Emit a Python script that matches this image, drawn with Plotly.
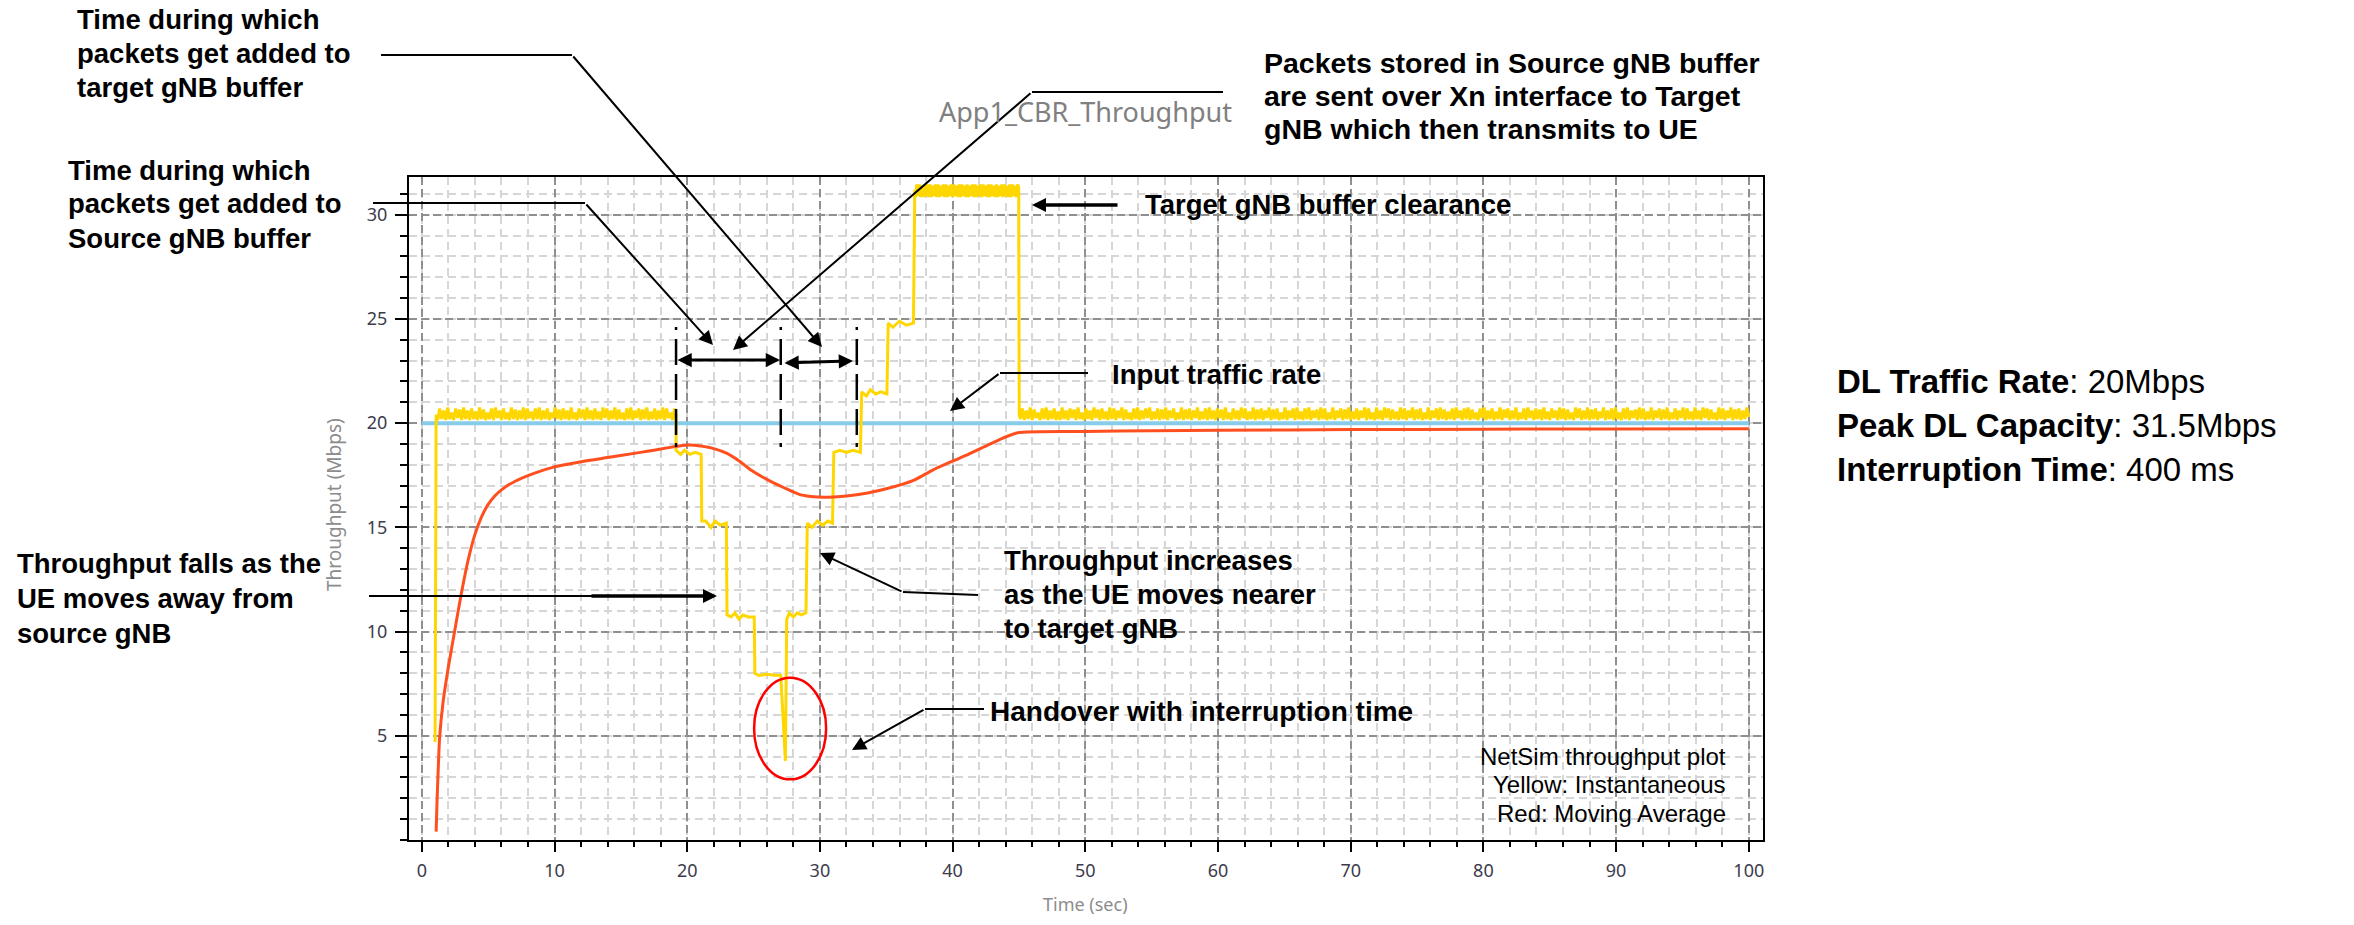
import plotly.graph_objects as go

# ---------------------------------------------------------------- data ----
# Instantaneous throughput (Mbps) – start of flow
start_t = [1.0, 1.08]
start_v = [4.7, 20.4]

# steady phase before the handover, one sample every 0.15 s from t = 1.2 s
pre_t0, pre_dt = 1.2, 0.15
pre_v = [
    20.15, 20.7, 20.2, 20.6, 20.15, 20.75, 20.2, 20.5, 20.15, 20.7, 20.25, 20.65, 20.15, 20.75, 20.2, 20.6, 20.15, 20.7, 20.2, 20.55,
    20.15, 20.75, 20.2, 20.65, 20.15, 20.5, 20.2, 20.7, 20.15, 20.75, 20.25, 20.6, 20.15, 20.7, 20.2, 20.5, 20.15, 20.75, 20.2, 20.65,
    20.15, 20.6, 20.2, 20.75, 20.15, 20.7, 20.25, 20.55, 20.15, 20.7, 20.2, 20.75, 20.15, 20.6, 20.2, 20.7, 20.15, 20.5, 20.25, 20.75,
    20.2, 20.65, 20.15, 20.7, 20.2, 20.6, 20.15, 20.75, 20.2, 20.5, 20.15, 20.7, 20.25, 20.65, 20.15, 20.75, 20.2, 20.6, 20.15, 20.7,
    20.2, 20.55, 20.15, 20.75, 20.25, 20.7, 20.15, 20.6, 20.2, 20.75, 20.15, 20.65, 20.2, 20.5, 20.15, 20.7, 20.2, 20.75, 20.15, 20.6,
    20.25, 20.7, 20.15, 20.65, 20.2, 20.75, 20.15, 20.55, 20.2, 20.7, 20.15, 20.6, 20.2, 20.75, 20.15, 20.7, 20.25, 20.5, 20.15, 20.7,
]

# handover phase: staircase down, interruption, staircase up
step_t = [19.16, 19.16, 19.5, 19.8, 20.2, 20.6, 21.05, 21.1, 21.4,
          21.8, 22.1, 22.5, 22.95, 23.0, 23.3, 23.6, 23.9, 24.2, 24.6,
          25.05, 25.1, 25.4, 26.0, 26.6, 27.05, 27.4, 27.5, 27.7, 28.0,
          28.3, 28.6, 28.95, 29.05, 29.4, 29.8, 30.2, 30.6, 30.95, 31.05,
          31.5, 32.0, 32.5, 33.05, 33.15, 33.5, 33.8, 34.2, 34.6, 35.05,
          35.15, 35.5, 36.0, 36.5, 37.05, 37.15]
step_v = [20.4, 18.7, 18.5, 18.7, 18.5, 18.6, 18.5, 15.3, 15.3,
          15.0, 15.3, 15.1, 15.2, 10.8, 10.7, 10.9, 10.6, 10.8, 10.7,
          10.7, 8.0, 7.9, 7.95, 7.9, 7.9, 3.8, 10.6, 10.9, 10.7,
          10.9, 10.8, 10.9, 15.2, 15.0, 15.3, 15.1, 15.3, 15.2, 18.6,
          18.7, 18.6, 18.7, 18.6, 21.5, 21.3, 21.6, 21.4, 21.5, 21.4,
          24.8, 24.6, 24.9, 24.7, 24.8, 31.2]

# target gNB buffer clearance at peak capacity, every 0.1 s from t = 37.2 s
peak_t0, peak_dt = 37.2, 0.1
peak_v = [
    30.85, 31.45, 30.9, 31.45, 30.85, 31.4, 30.85, 31.45, 30.9, 31.45, 30.85, 31.45, 30.85, 31.4, 30.9, 31.45, 30.85, 31.45, 30.85, 31.4,
    30.9, 31.45, 30.85, 31.45, 30.85, 31.4, 30.9, 31.45, 30.85, 31.45, 30.9, 31.4, 30.85, 31.45, 30.85, 31.45, 30.9, 31.4, 30.85, 31.45,
    30.85, 31.4, 30.9, 31.45, 30.85, 31.45, 30.85, 31.4, 30.9, 31.45, 30.85, 31.45, 30.9, 31.4, 30.85, 31.45, 30.85, 31.45, 30.9, 31.4,
    30.85, 31.45, 30.85, 31.4, 30.9, 31.45, 30.85, 31.45, 30.9, 31.4, 30.85, 31.45, 30.85, 31.45, 30.9, 31.4, 30.85, 31.45,
]

release_t = [44.98, 45.02]
release_v = [31.3, 20.4]

# steady phase after the buffer is cleared, every 0.15 s from t = 45.1 s
post_t0, post_dt = 45.1, 0.15
post_v = [
    20.2, 20.7, 20.15, 20.6, 20.2, 20.75, 20.15, 20.65, 20.25, 20.5, 20.15, 20.7, 20.2, 20.75, 20.15, 20.6, 20.2, 20.7, 20.15, 20.55,
    20.15, 20.75, 20.2, 20.6, 20.15, 20.7, 20.25, 20.65, 20.15, 20.75, 20.2, 20.5, 20.15, 20.7, 20.2, 20.6, 20.15, 20.75, 20.25, 20.65,
    20.15, 20.7, 20.2, 20.55, 20.15, 20.75, 20.2, 20.7, 20.15, 20.6, 20.25, 20.75, 20.15, 20.65, 20.2, 20.5, 20.15, 20.7, 20.2, 20.75,
    20.15, 20.6, 20.2, 20.7, 20.25, 20.75, 20.15, 20.55, 20.2, 20.7, 20.15, 20.65, 20.2, 20.75, 20.15, 20.6, 20.25, 20.7, 20.15, 20.5,
    20.2, 20.75, 20.15, 20.65, 20.2, 20.7, 20.15, 20.6, 20.25, 20.75, 20.15, 20.55, 20.2, 20.7, 20.15, 20.75, 20.2, 20.6, 20.15, 20.7,
    20.25, 20.65, 20.15, 20.75, 20.2, 20.5, 20.15, 20.7, 20.2, 20.6, 20.15, 20.75, 20.25, 20.7, 20.15, 20.55, 20.2, 20.75, 20.15, 20.65,
    20.2, 20.7, 20.15, 20.6, 20.25, 20.75, 20.15, 20.65, 20.2, 20.7, 20.15, 20.5, 20.2, 20.75, 20.15, 20.6, 20.25, 20.7, 20.15, 20.75,
    20.2, 20.55, 20.15, 20.7, 20.2, 20.75, 20.15, 20.6, 20.25, 20.65, 20.15, 20.75, 20.2, 20.7, 20.15, 20.5, 20.2, 20.75, 20.15, 20.6,
    20.25, 20.7, 20.15, 20.65, 20.2, 20.75, 20.15, 20.55, 20.2, 20.7, 20.15, 20.6, 20.25, 20.75, 20.15, 20.7, 20.2, 20.5, 20.15, 20.75,
    20.2, 20.6, 20.15, 20.75, 20.25, 20.7, 20.15, 20.65, 20.2, 20.55, 20.15, 20.75, 20.2, 20.7, 20.15, 20.6, 20.25, 20.75, 20.15, 20.65,
    20.2, 20.7, 20.15, 20.5, 20.2, 20.75, 20.15, 20.6, 20.25, 20.7, 20.15, 20.75, 20.2, 20.65, 20.15, 20.55, 20.2, 20.7, 20.15, 20.75,
    20.25, 20.6, 20.15, 20.7, 20.2, 20.75, 20.15, 20.65, 20.2, 20.5, 20.15, 20.7, 20.25, 20.75, 20.15, 20.6, 20.2, 20.7, 20.15, 20.55,
    20.2, 20.75, 20.15, 20.65, 20.25, 20.7, 20.15, 20.6, 20.2, 20.75, 20.15, 20.5, 20.2, 20.7, 20.15, 20.75, 20.25, 20.6, 20.15, 20.7,
    20.2, 20.65, 20.15, 20.75, 20.2, 20.55, 20.15, 20.7, 20.25, 20.6, 20.15, 20.75, 20.2, 20.7, 20.15, 20.65, 20.2, 20.5, 20.15, 20.75,
    20.25, 20.7, 20.15, 20.6, 20.2, 20.75, 20.15, 20.65, 20.2, 20.7, 20.15, 20.55, 20.25, 20.75, 20.15, 20.6, 20.2, 20.7, 20.15, 20.75,
    20.2, 20.5, 20.15, 20.7, 20.2, 20.75, 20.15, 20.6, 20.25, 20.65, 20.15, 20.75, 20.2, 20.7, 20.15, 20.55, 20.2, 20.75, 20.15, 20.6,
    20.25, 20.7, 20.15, 20.65, 20.2, 20.75, 20.15, 20.5, 20.2, 20.7, 20.15, 20.6, 20.25, 20.75, 20.15, 20.7, 20.2, 20.55, 20.15, 20.75,
    20.2, 20.6, 20.15, 20.75, 20.25, 20.7, 20.15, 20.65, 20.2, 20.5, 20.15, 20.75, 20.2, 20.7, 20.15, 20.6, 20.25, 20.75, 20.15, 20.65,
    20.2, 20.7, 20.15, 20.6, 20.2, 20.75, 20.3,
]

# Moving average throughput (Mbps)
ma_t = [1.08, 1.15, 1.25, 1.34, 1.6, 2.0, 2.47, 3.0, 3.5, 4.0,
        4.5, 5.0, 5.5, 6.0, 7.0, 8.5, 10.0, 12.0, 14.0, 16.0,
        17.0, 18.0, 19.0, 19.6, 20.2, 21.0, 22.0, 23.0, 24.0, 24.8,
        26.0, 27.3, 28.5, 29.5, 30.3, 31.0, 32.0, 33.6, 35.0, 37.1,
        38.5, 39.9, 41.0, 42.4, 43.5, 44.9, 50.0, 55.0, 60.0, 70.0,
        80.0, 90.0, 100.0]
ma_v = [0.4, 1.9, 3.6, 4.9, 6.6, 8.3, 10.0, 11.9, 13.45, 14.65,
        15.5, 16.1, 16.5, 16.8, 17.2, 17.6, 17.9, 18.15, 18.35, 18.55,
        18.65, 18.76, 18.87, 18.93, 18.95, 18.9, 18.78, 18.55, 18.15, 17.75,
        17.3, 16.9, 16.57, 16.47, 16.45, 16.46, 16.5, 16.65, 16.85, 17.27,
        17.75, 18.15, 18.45, 18.87, 19.2, 19.54, 19.6, 19.64, 19.66, 19.69,
        19.71, 19.72, 19.73]

# Input (DL) traffic rate
dl_rate = 20.0
rate_t = [0.0, 100.0]

# Handover-related instants (s) marked with dashed lines
handover_marks = [19.16, 27.05, 32.78]
# Interruption region highlighted with an ellipse (time, Mbps)
interrupt_box = dict(t0=25.04, t1=30.47, v0=2.91, v1=7.79)

x_ticks = list(range(0, 101, 10))
y_ticks = [5, 10, 15, 20, 25, 30]

# ------------------------------------------------------------ assemble ----
def sampled(t0, dt, values):
    return [round(t0 + i * dt, 4) for i in range(len(values))]

inst_t = (start_t + sampled(pre_t0, pre_dt, pre_v) + step_t
          + sampled(peak_t0, peak_dt, peak_v) + release_t
          + sampled(post_t0, post_dt, post_v))
inst_v = start_v + pre_v + step_v + peak_v + release_v + post_v

# ------------------------------------------------------------- geometry ---
W, H = 2354, 925
PL, PR, PT, PB = 409, 1763, 177, 840       # plot-area edges (px)


def fx(p):
    return (p - PL) / (PR - PL)


def fy(p):
    return (PB - p) / (PB - PT)


ANN_FONT = "Liberation Sans, Arial, sans-serif"
UI_FONT = "Noto Sans, Open Sans, sans-serif"

annotations = []
shapes = []


def text_block(lines, x, y0, dy, size, bold=True, anchor="left", color="black"):
    for i, s in enumerate(lines):
        annotations.append(dict(
            xref="paper", yref="paper", x=fx(x), y=fy(y0 + i * dy),
            text=f"<b>{s}</b>" if bold else s, showarrow=False,
            xanchor=anchor, yanchor="middle", align=anchor,
            font=dict(family=ANN_FONT, size=size, color=color)))


def arrow(tail, tip, width=2.0, size=1.4, both=False):
    annotations.append(dict(
        xref="paper", yref="paper", x=fx(tip[0]), y=fy(tip[1]),
        ax=tail[0] - tip[0], ay=tail[1] - tip[1], axref="pixel", ayref="pixel",
        text="", showarrow=True, arrowhead=2, arrowsize=size, arrowwidth=width,
        arrowcolor="black", standoff=0, startstandoff=0,
        arrowside="end+start" if both else "end",
        startarrowhead=2, startarrowsize=size))


def seg(p0, p1, width=2.0):
    shapes.append(dict(type="line", xref="paper", yref="paper",
                       x0=fx(p0[0]), y0=fy(p0[1]), x1=fx(p1[0]), y1=fy(p1[1]),
                       line=dict(color="black", width=width)))


# ---------------------------------------------------------------- figure --
fig = go.Figure()
fig.add_trace(go.Scatter(x=rate_t, y=[dl_rate] * len(rate_t), mode="lines",
                         line=dict(color="#87CDEB", width=4),
                         name="Input traffic rate", hoverinfo="skip"))
fig.add_trace(go.Scatter(x=inst_t, y=inst_v, mode="lines",
                         line=dict(color="#FFD700", width=3),
                         name="Instantaneous"))
fig.add_trace(go.Scatter(x=ma_t, y=ma_v, mode="lines",
                         line=dict(color="#FF4F1F", width=3, shape="spline",
                                   smoothing=0.6),
                         name="Moving Average"))

# dashed markers around the handover
for t in handover_marks:
    shapes.append(dict(type="line", xref="x", yref="paper", x0=t, x1=t,
                       y0=fy(447), y1=fy(327),
                       line=dict(color="black", width=2.5,
                                 dash="4px,8px,26px,9px,26px,9px,26px,9px")))

# interruption highlight
shapes.append(dict(type="circle", xref="x", yref="y",
                   x0=interrupt_box["t0"], x1=interrupt_box["t1"],
                   y0=interrupt_box["v0"], y1=interrupt_box["v1"],
                   line=dict(color="#FF0000", width=2.5)))

# callouts
text_block(["Time during which", "packets get added to", "target gNB buffer"],
           75, 20, 33.5, 27.5)
seg((381, 55), (572, 55))
arrow((572, 55), (822, 347))

text_block(["Time during which", "packets get added to", "Source gNB buffer"],
           66, 170, 34, 27.5)
seg((373, 203), (585, 203))
arrow((585, 203), (713, 345))

text_block(["Packets stored in Source gNB buffer",
            "are sent over Xn interface to Target",
            "gNB which then transmits to UE"], 1262, 63, 33, 28.5)
seg((1223, 92), (1032, 92))
arrow((1032, 92), (733, 350))

text_block(["Target gNB buffer clearance"], 1143, 205, 0, 27.5)
arrow((1119, 205), (1032, 205), width=3.5, size=0.8)

text_block(["Input traffic rate"], 1110, 374, 0, 27.5)
seg((1088, 373), (1000, 373))
arrow((1000, 373), (950, 411))

text_block(["Throughput falls as the", "UE moves away from", "source gNB"],
           15, 563, 35, 27.5)
seg((369, 596), (592, 596))
arrow((590, 596), (717, 596), width=3.5, size=0.8)

text_block(["Throughput increases", "as the UE moves nearer", "to target gNB"],
           1002, 560, 34, 27.5)
seg((978, 595), (903, 592))
arrow((903, 592), (820, 553))

text_block(["Handover with interruption time"], 988, 711, 0, 28)
seg((984, 709), (925, 709))
arrow((925, 709), (852, 750))

arrow((676, 360), (780, 360), width=3, size=0.95, both=True)
arrow((783, 363), (853, 361), width=3, size=0.95, both=True)

text_block(["NetSim throughput plot", "Yellow: Instantaneous",
            "Red: Moving Average"], 1728, 756, 28.5, 24, bold=False,
           anchor="right")

text_block(["<b>DL Traffic Rate</b>: 20Mbps",
            "<b>Peak DL Capacity</b>: 31.5Mbps",
            "<b>Interruption Time</b>: 400 ms"], 1835, 381, 44, 33, bold=False)

# chart title and axis titles
annotations.append(dict(xref="paper", yref="paper", x=fx(1085), y=fy(112),
                        text="App1_CBR_Throughput", showarrow=False,
                        xanchor="center", yanchor="middle",
                        font=dict(family=UI_FONT, size=27, color="#808080")))
annotations.append(dict(xref="paper", yref="paper", x=fx(334), y=fy(505),
                        text="Throughput (Mbps)", showarrow=False, textangle=-90,
                        xanchor="center", yanchor="middle",
                        font=dict(family=UI_FONT, size=19, color="#8c8c8c")))
annotations.append(dict(xref="paper", yref="paper", x=fx(1085), y=fy(904),
                        text="Time (sec)", showarrow=False,
                        xanchor="center", yanchor="middle",
                        font=dict(family=UI_FONT, size=18, color="#8c8c8c")))

tick_font = dict(family=UI_FONT, size=18, color="#3c3c4c")
major_grid = dict(showgrid=True, gridcolor="#8f8f8f", gridwidth=1.5,
                  griddash="8px,4px")

fig.update_layout(
    width=W, height=H,
    margin=dict(l=PL, r=W - PR, t=PT, b=H - PB, pad=0),
    paper_bgcolor="white", plot_bgcolor="white",
    showlegend=False,
    shapes=shapes, annotations=annotations,
    xaxis=dict(range=[-0.965, 101.07], tickmode="array", tickvals=x_ticks,
               ticks="outside", ticklen=10, tickwidth=2, tickcolor="black",
               showline=True, linewidth=2, linecolor="black", mirror=True,
               zeroline=False, tickfont=tick_font, ticklabelstandoff=3,
               automargin=False,
               minor=dict(dtick=2, tick0=0, ticks="outside", ticklen=5,
                          tickwidth=1.5, tickcolor="black", showgrid=True,
                          gridcolor="#d6d6d6", gridwidth=1.5,
                          griddash="8px,5px"),
               **major_grid),
    yaxis=dict(range=[0, 31.81], tickmode="array", tickvals=y_ticks,
               ticks="outside", ticklen=12, tickwidth=2, tickcolor="black",
               showline=True, linewidth=2, linecolor="black", mirror=True,
               zeroline=False, tickfont=tick_font, ticklabelstandoff=4,
               automargin=False,
               minor=dict(dtick=1, tick0=0, ticks="outside", ticklen=7,
                          tickwidth=1.5, tickcolor="black", showgrid=True,
                          gridcolor="#d6d6d6", gridwidth=1.5,
                          griddash="8px,5px"),
               **major_grid),
)

fig.write_html("out.html")
